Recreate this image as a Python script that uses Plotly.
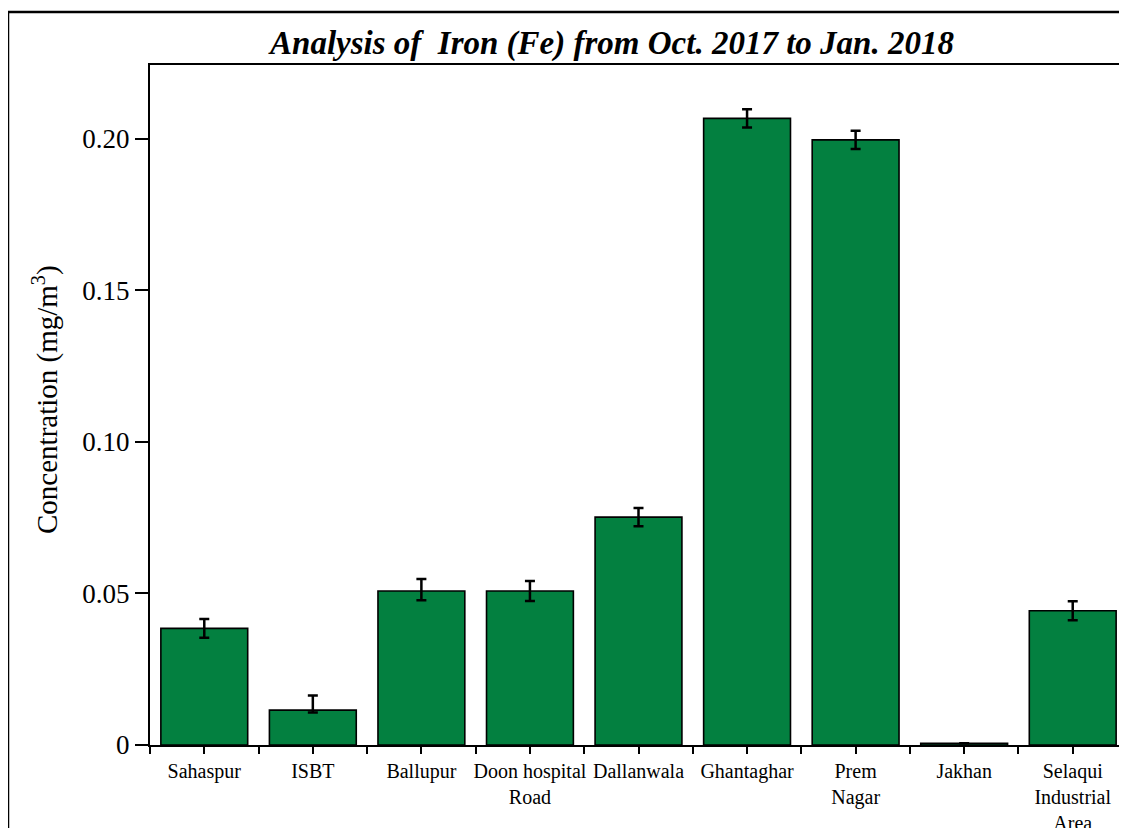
import plotly.graph_objects as go

categories = ["Sahaspur", "ISBT", "Ballupur", "Doon hospital<br>Road", "Dallanwala",
              "Ghantaghar", "Prem<br>Nagar", "Jakhan", "Selaqui<br>Industrial<br>Area"]
values = [0.0385, 0.0115, 0.0508, 0.0508, 0.0752, 0.2068, 0.1997, 0.0006, 0.0443]
err_plus = [0.0031, 0.0048, 0.0040, 0.0033, 0.0030, 0.0030, 0.0030, 0.0, 0.0031]
err_minus = [0.0031, 0.0008, 0.0030, 0.0033, 0.0030, 0.0030, 0.0030, 0.0, 0.0031]
ytick_vals = [0, 0.05, 0.10, 0.15, 0.20]
ytick_text = ["0", "0.05", "0.10", "0.15", "0.20"]

# the page body adds an 8px offset; the figure is sized so it fills the window
OFF = 8
W, H = 1127 - OFF, 828 - OFF
L, R, T, B = 150 - OFF, 0, 65 - OFF, 828 - 745
pw, ph = W - L - R, H - T - B

def px_x(x):  # reference pixel x -> paper
    return (x - 150) / pw

def px_y(y):  # reference pixel y -> paper
    return (745 - y) / ph

xpos = list(range(len(categories)))

fig = go.Figure()
fig.add_trace(go.Bar(
    x=xpos, y=values, width=0.8,
    marker=dict(color="#038040", line=dict(color="black", width=1.6)),
    error_y=dict(type="data", array=err_plus, arrayminus=err_minus, symmetric=False,
                 color="black", thickness=2.5, width=5),
    showlegend=False,
))

font_family = "Liberation Serif, Times New Roman, serif"

fig.update_layout(
    width=W, height=H,
    margin=dict(l=L, r=R, t=T, b=B, autoexpand=False),
    paper_bgcolor="white", plot_bgcolor="white",
    font=dict(family=font_family, color="black"),
    title=dict(text="<b><i>Analysis of\u00a0\u00a0Iron (Fe) from Oct. 2017 to Jan. 2018</i></b>",
               x=(612 - OFF) / W, xref="container", xanchor="center",
               y=1 - (42 - OFF) / H, yref="container", yanchor="middle",
               font=dict(size=33, family=font_family, color="black")),
    xaxis=dict(
        range=[-0.5, len(categories) - 0.5],
        tickmode="array", tickvals=xpos, ticktext=categories,
        tickangle=0,
        ticks="outside", ticklen=7, tickwidth=2, tickcolor="black",
        minor=dict(tickmode="linear", tick0=-0.5, dtick=1, ticks="outside",
                   ticklen=7, tickwidth=2, tickcolor="black"),
        showline=True, linecolor="black", linewidth=2, mirror=True,
        showgrid=False, zeroline=False,
        tickfont=dict(size=20, family=font_family, color="black"),
    ),
    yaxis=dict(
        range=[0, 0.2244],
        tickmode="array", tickvals=ytick_vals, ticktext=ytick_text,
        ticks="outside", ticklen=13, tickwidth=2, tickcolor="black",
        showline=True, linecolor="black", linewidth=2, mirror=True,
        showgrid=False, zeroline=False,
        tickfont=dict(size=27, family=font_family, color="black"),
    ),
)

fig.add_annotation(
    text="Concentration (mg/m<sup>3</sup>)",
    xref="paper", yref="paper",
    x=px_x(45), y=px_y(400),
    xanchor="center", yanchor="middle", textangle=-90, showarrow=False,
    font=dict(size=29, family=font_family, color="black"),
)

# outer frame around the whole figure
fig.add_shape(type="rect", xref="paper", yref="paper",
              x0=px_x(8), x1=px_x(1127 + 20),
              y0=px_y(828 + 20), y1=px_y(12),
              line=dict(color="black", width=2.5), fillcolor="rgba(0,0,0,0)",
              layer="above")

fig.write_html("out.html")
